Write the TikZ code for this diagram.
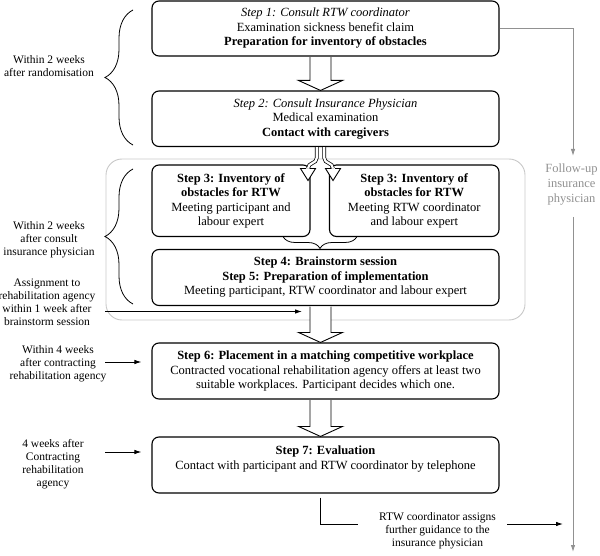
\documentclass[tikz,border=0pt]{standalone}
\usepackage{fontspec}
\setmainfont{Liberation Serif}
\usetikzlibrary{arrows.meta,decorations.pathreplacing,calc}
\definecolor{fugray}{RGB}{145,145,145}
\definecolor{grpgray}{RGB}{200,200,200}
\newcommand{\hollowdown}[2]{%
  \path[hollow] let \p1=(#1), \p2=(#2) in
    (\x1-10.5pt,\y1-0.6pt) -- (\x1-10.5pt,\y2+10pt) -- (\x1-22pt,\y2+10pt) -- (\x1,\y2)
    -- (\x1+22pt,\y2+10pt) -- (\x1+10.5pt,\y2+10pt) -- (\x1+10.5pt,\y1-0.6pt);}
\begin{document}
\begin{tikzpicture}[x=1pt,y=-1pt,
  box/.style={draw,line width=1.1pt,rounded corners=7pt,align=center,inner sep=0pt,
    font=\fontsize{12.5}{14.5}\selectfont},
  lab/.style={align=center,inner sep=0pt,font=\fontsize{11.5}{13}\selectfont},
  hollow/.style={draw,fill=white,line width=0.9pt,line join=miter},
  shaft/.style={draw,double=white,double distance=2.2pt,line width=0.75pt},
  arr/.style={line width=0.9pt,-{Latex[length=7pt,width=4.5pt]}},
  garr/.style={draw=fugray,line width=0.9pt,-{Latex[length=7pt,width=4.5pt]}},
  brc/.style={decorate,decoration={brace,amplitude=#1},line width=0.8pt},
]
\useasboundingbox (0,0) rectangle (600,556);
% group frame
\node[draw=grpgray,line width=0.9pt,rounded corners=16pt,minimum width=419pt,
  minimum height=161pt,inner sep=0pt] (grp) at (315.5,239.5) {};
% boxes
\node[box,minimum width=347pt,minimum height=55pt] (s1) at (325.5,28.5)
  {\textit{Step 1: Consult RTW coordinator}\\Examination sickness benefit claim\\\textbf{Preparation for inventory of obstacles}};
\node[box,minimum width=347pt,minimum height=55.5pt] (s2) at (325.5,118.75)
  {\textit{Step 2: Consult Insurance Physician}\\Medical examination\\\textbf{Contact with caregivers}};
\node[box,minimum width=158pt,minimum height=71.5pt] (s3l) at (231,200.75)
  {\textbf{Step 3: Inventory of}\\\textbf{obstacles for RTW}\\Meeting participant and\\labour expert};
\node[box,minimum width=169.5pt,minimum height=71.5pt] (s3r) at (414.25,200.75)
  {\textbf{Step 3: Inventory of}\\\textbf{obstacles for RTW}\\Meeting RTW coordinator\\and labour expert};
\node[box,minimum width=347pt,minimum height=56pt] (s45) at (325.5,277.5)
  {\textbf{Step 4: Brainstorm session}\\\textbf{Step 5: Preparation of implementation}\\Meeting participant, RTW coordinator and labour expert};
\node[box,minimum width=347pt,minimum height=56pt] (s6) at (325.5,371)
  {\textbf{Step 6: Placement in a matching competitive workplace}\\Contracted vocational rehabilitation agency offers at least two\\suitable workplaces. Participant decides which one.};
\node[box,minimum width=347pt,minimum height=56pt] (s7) at (325.5,465)
  {\textbf{Step 7: Evaluation}\\Contact with participant and RTW coordinator by telephone\\\mbox{}};
% labels
\node[lab] (l1) at (49,66.5) {Within 2 weeks\\after randomisation};
\node[lab] (l2) at (49,240) {Within 2 weeks\\after consult\\insurance physician};
\node[lab] (l3) at (47,302.5) {Assignment to\\rehabilitation agency\\within 1 week after\\brainstorm session};
\node[lab] (l4) at (58,363.3) {Within 4 weeks\\after contracting\\rehabilitation agency};
\node[lab] (l5) at (53,464) {4 weeks after\\Contracting\\rehabilitation\\agency};
\node[lab] (l6) at (437.5,530.5) {RTW coordinator assigns\\further guidance to the\\insurance physician};
\node[align=center,inner sep=0pt,text=fugray,font=\fontsize{12.5}{15}\selectfont] (fu) at (571.5,185)
  {Follow-up\\insurance\\physician};
% hollow arrows
\hollowdown{[xshift=-5pt]s1.south}{[xshift=-5pt]s2.north}
\hollowdown{[xshift=-5pt]s45.south}{[xshift=-5pt]s6.north}
\hollowdown{[xshift=-5pt]s6.south}{[xshift=-5pt]s7.north}
% split arrow from step 2 to both step 3 boxes
\draw[shaft] let \p1=([xshift=-5pt]s2.south) in
  (\x1-3.8pt,\y1) -- (\x1-3.8pt,\y1-11pt) .. controls (\x1-3.8pt,\y1-17pt) and (\x1-12.5pt,\y1-15pt) .. (\x1-12.5pt,\y1-21.5pt);
\draw[shaft] let \p1=([xshift=-5pt]s2.south) in
  (\x1+3.8pt,\y1) -- (\x1+3.8pt,\y1-11pt) .. controls (\x1+3.8pt,\y1-17pt) and (\x1+12.5pt,\y1-15pt) .. (\x1+12.5pt,\y1-21.5pt);
\path[hollow] let \p1=([xshift=-5pt]s2.south) in
  (\x1-14.5pt,\y1-21.5pt) -- (\x1-20pt,\y1-21.5pt) -- (\x1-12.5pt,\y1-33.5pt) -- (\x1-5pt,\y1-21.5pt) -- (\x1-10.5pt,\y1-21.5pt);
\path[hollow] let \p1=([xshift=-5pt]s2.south) in
  (\x1+10.5pt,\y1-21.5pt) -- (\x1+5pt,\y1-21.5pt) -- (\x1+12.5pt,\y1-33.5pt) -- (\x1+20pt,\y1-21.5pt) -- (\x1+14.5pt,\y1-21.5pt);
% braces
\draw[brc=28pt] (133,145) -- (133,10);
\draw[brc=28pt] (133,304) -- (133,169);
\draw[brc=12pt] (357,236.5) -- (283,236.5);
% thin arrows
\coordinate (a3) at (105,311.5);
\coordinate (a3e) at (302,311.5);
\draw[arr] (a3) -- (a3e);
\coordinate (a4) at (105,362);
\draw[arr,shorten >=10pt] (a4) -- (a4 -| s6.west);
\coordinate (a5) at (105,452);
\draw[arr,shorten >=10pt] (a5) -- (a5 -| s7.west);
% follow-up line
\coordinate (fu1) at (573,156);
\coordinate (fu2) at (573,217);
\coordinate (fu3) at (573,552);
\draw[garr] (s1.east) -| (fu1);
\draw[garr] (fu2) -- (fu3);
% bottom connector
\coordinate (b2) at (358,524);
\draw[line width=0.9pt] ([xshift=-5pt,yshift=-4pt]s7.south) |- (b2);
\coordinate (r1) at (507,524);
\draw[arr,shorten >=10pt] (r1) -- (r1 -| fu3);
\end{tikzpicture}
\end{document}
